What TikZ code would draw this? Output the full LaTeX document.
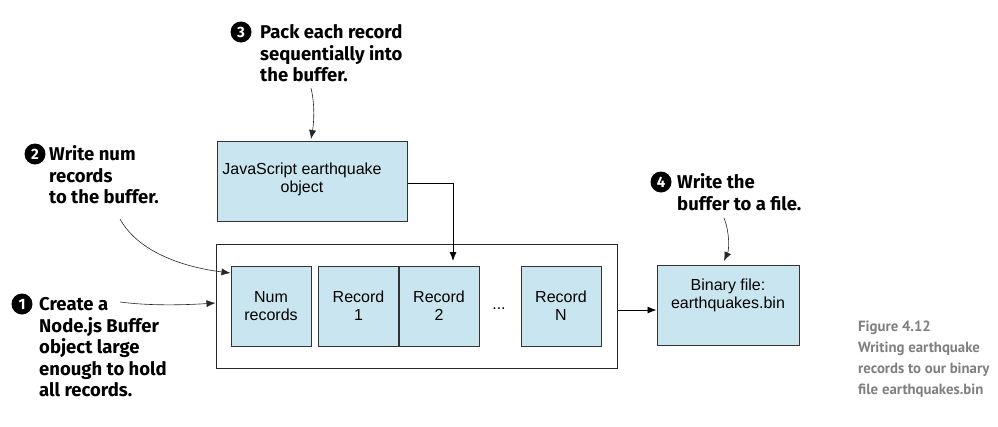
\documentclass[tikz,border=0pt]{standalone}
\usepackage{fontspec}
\setmainfont{Liberation Sans}
\newfontfamily\annfont{Fira Sans}
\newfontfamily\capfont{PT Sans}
\usetikzlibrary{arrows.meta}
\definecolor{boxblue}{HTML}{C9E6F0}
\definecolor{capgray}{HTML}{7F7F7F}
\newcommand\mlines[1]{\begin{tabular}[t]{@{}l@{}}#1\end{tabular}}
\tikzset{
  bluebox/.style={draw=black!80, line width=1pt, fill=boxblue, minimum width=80pt, minimum height=80pt, inner sep=0pt, align=center, font=\fontsize{16}{18}\selectfont},
  boxtext/.style={inner sep=0pt, align=center, font=\fontsize{16}{18}\selectfont},
  outerbox/.style={draw=black!85, line width=1pt, fill=white, minimum width=401pt, minimum height=124pt, inner sep=0pt},
  arr/.style={draw=black, line width=0.9pt, -{Latex[length=9pt,width=7pt]}},
  thinarr/.style={draw=black!85, line width=0.6pt, -{Latex[length=9pt,width=7pt]}},
  numc/.style={circle, fill=black, text=white, inner sep=0pt, minimum size=21pt, font=\annfont\bfseries\fontsize{15}{15}\selectfont},
  ann/.style={anchor=base west, inner sep=0pt, font=\annfont\bfseries\fontsize{18.5}{21.5}\selectfont},
  captext/.style={anchor=base west, inner sep=0pt, text=capgray, font=\capfont\bfseries\fontsize{14.8}{21}\selectfont},
}
\begin{document}
\begin{tikzpicture}[x=1pt,y=-1pt]
\useasboundingbox (0,0) rectangle (998,426);
% buffer
\node[outerbox] (buf) at (416.5,306) {};
\node[bluebox] (numrec) at (271,306) {Num\\records};
\node[bluebox] (rec1) at (358.5,306) {Record\\1};
\node[bluebox] (rec2) at (439,306) {Record\\2};
\node[boxtext] (dots) at (499,309) {...};
\node[bluebox] (recN) at (561,306) {Record\\N};
% JS object
\node[bluebox, minimum width=190pt] (js) at (312,181) {};
\node[boxtext] (jstext) at (302,179) {JavaScript earthquake\\object};
% binary file
\node[bluebox, minimum width=142pt] (bin) at (728,305) {};
\node[boxtext] (bintext) at (728,295) {Binary file:\\earthquakes.bin};
% connectors
\coordinate (r2top) at (453,261);
\draw[arr] ([yshift=-2pt]js.east) -| (r2top);
\draw[arr] ([yshift=-4pt]buf.east) -- ([yshift=-5pt]bin.west);
% annotations
\node[numc] (n1) at (22,304) {1};
\node[ann] (a1) at (39,310.5) {\mlines{Create a\\Node.js Buffer\\object large\\enough to hold\\all records.}};
\node[numc] (n2) at (35,154) {2};
\node[ann] (a2) at (49,160.5) {\mlines{Write num\\records\\to the buffer.}};
\node[numc] (n3) at (241,32) {3};
\node[ann] (a3) at (260,38.5) {\mlines{Pack each record\\sequentially into\\the buffer.}};
\node[numc] (n4) at (661,182) {4};
\node[ann] (a4) at (677,188.5) {\mlines{Write the\\buffer to a file.}};
\coordinate (a1s) at (120,302);
\draw[thinarr] (a1s) .. controls (150,306) and (185,305) .. ([yshift=3pt]buf.west);
\coordinate (a2s) at (120,219);
\draw[thinarr] (a2s) .. controls (140,255) and (190,268) .. ([yshift=33pt]numrec.west);
\coordinate (a3s) at (311,88);
\coordinate (a3e) at (311,139);
\draw[thinarr] (a3s) .. controls (315,105) and (314,122) .. (a3e);
\coordinate (a4s) at (724,218);
\coordinate (a4e) at (724,261);
\draw[thinarr] (a4s) .. controls (730,233) and (729,250) .. (a4e);
% caption
\node[captext] (figcap) at (858,331) {\mlines{Figure 4.12\\Writing earthquake\\records to our binary\\file earthquakes.bin}};
\end{tikzpicture}
\end{document}
